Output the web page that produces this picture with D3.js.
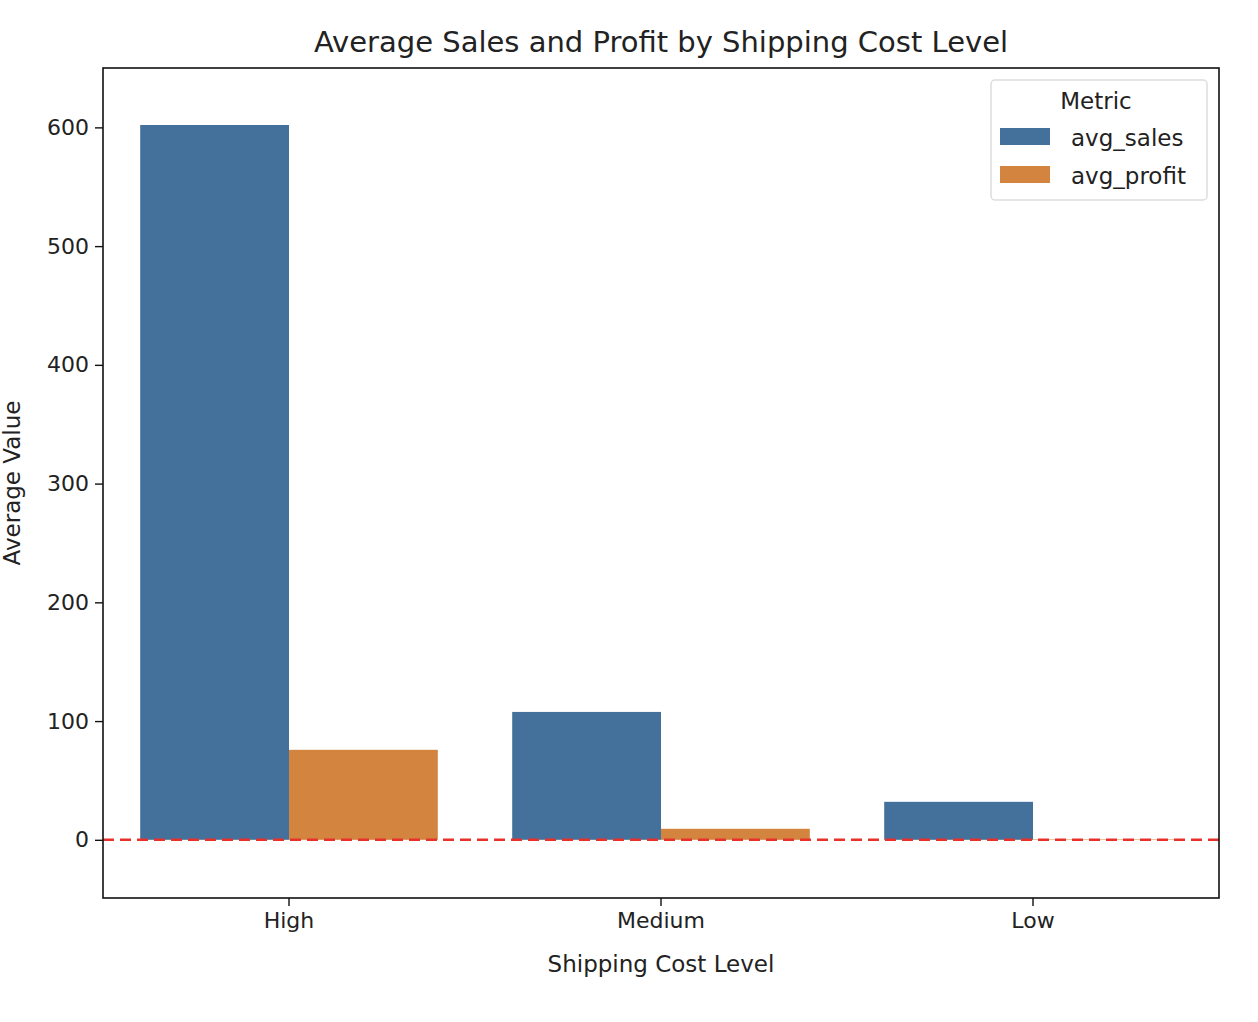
<!DOCTYPE html>
<html><head><meta charset="utf-8">
<script src="https://cdn.jsdelivr.net/npm/d3@7"></script>
<style>body{margin:0;background:#fff}text{font-family:"DejaVu Sans",sans-serif;fill:#222}</style>
</head><body>
<svg id="c" width="1258" height="1022"></svg>
<script>
const levels = ['High', 'Medium', 'Low'];
const metrics = ['avg_sales', 'avg_profit'];
const avgSales = [602, 107.7, 32];
const avgProfit = [75.8, 9.3, 0.4];
const colors = ['#44719b', '#d3843e'];

const svg = d3.select('#c');
const m = {l: 103, r: 1219, t: 68, b: 898};
const x = d3.scaleBand().domain(levels).range([m.l, m.r]);
const x1 = d3.scaleBand().domain(metrics).range([0, x.bandwidth() * 0.8]);
const y = d3.scaleLinear().domain([-49, 650]).range([m.b, m.t]);

const rows = levels.map((l, i) => ({level: l, vals: [avgSales[i], avgProfit[i]]}));
const g = svg.append('g');
rows.forEach(r => {
  r.vals.forEach((v, j) => {
    g.append('rect')
      .attr('x', x(r.level) + x.bandwidth() * 0.1 + x1(metrics[j]))
      .attr('width', x1.bandwidth())
      .attr('y', y(Math.max(0, v)))
      .attr('height', Math.abs(y(v) - y(0)))
      .attr('fill', colors[j]);
  });
});

svg.append('line').attr('x1', m.l).attr('x2', m.r).attr('y1', y(0)).attr('y2', y(0))
  .attr('stroke', '#e8312a').attr('stroke-width', 2.5).attr('stroke-dasharray', '11,6');

svg.append('rect').attr('x', m.l).attr('y', m.t).attr('width', m.r - m.l).attr('height', m.b - m.t)
  .attr('fill', 'none').attr('stroke', '#111').attr('stroke-width', 1.6);

const ya = svg.append('g').attr('transform', `translate(${m.l},0)`)
  .call(d3.axisLeft(y).tickValues([0, 100, 200, 300, 400, 500, 600]).tickSize(8).tickPadding(6));
const xa = svg.append('g').attr('transform', `translate(0,${m.b})`)
  .call(d3.axisBottom(x).tickSize(8).tickPadding(6));
[ya, xa].forEach(a => {
  a.select('.domain').remove();
  a.selectAll('line').attr('stroke', '#111').attr('stroke-width', 1.4);
  a.selectAll('text').style('font-size', '22px').style('font-family', 'DejaVu Sans').attr('fill', '#222');
});

svg.append('text').attr('x', 661).attr('y', 52).attr('text-anchor', 'middle')
  .style('font-size', '29px').text('Average Sales and Profit by Shipping Cost Level');
svg.append('text').attr('x', 661).attr('y', 972).attr('text-anchor', 'middle')
  .style('font-size', '23px').text('Shipping Cost Level');
svg.append('text').attr('transform', 'translate(20,483) rotate(-90)').attr('text-anchor', 'middle')
  .style('font-size', '23px').text('Average Value');

const lg = svg.append('g').attr('transform', 'translate(991,80)');
lg.append('rect').attr('width', 216).attr('height', 120).attr('rx', 4)
  .attr('fill', '#fff').attr('fill-opacity', 0.8).attr('stroke', '#ddd').attr('stroke-width', 1.5);
lg.append('text').attr('x', 105).attr('y', 29).attr('text-anchor', 'middle').style('font-size', '23px').text('Metric');
metrics.forEach((mt, i) => {
  lg.append('rect').attr('x', 9).attr('y', 48 + i * 38).attr('width', 50).attr('height', 17).attr('fill', colors[i]);
  lg.append('text').attr('x', 80).attr('y', 66 + i * 38).style('font-size', '23px').text(mt);
});
</script>
</body></html>
